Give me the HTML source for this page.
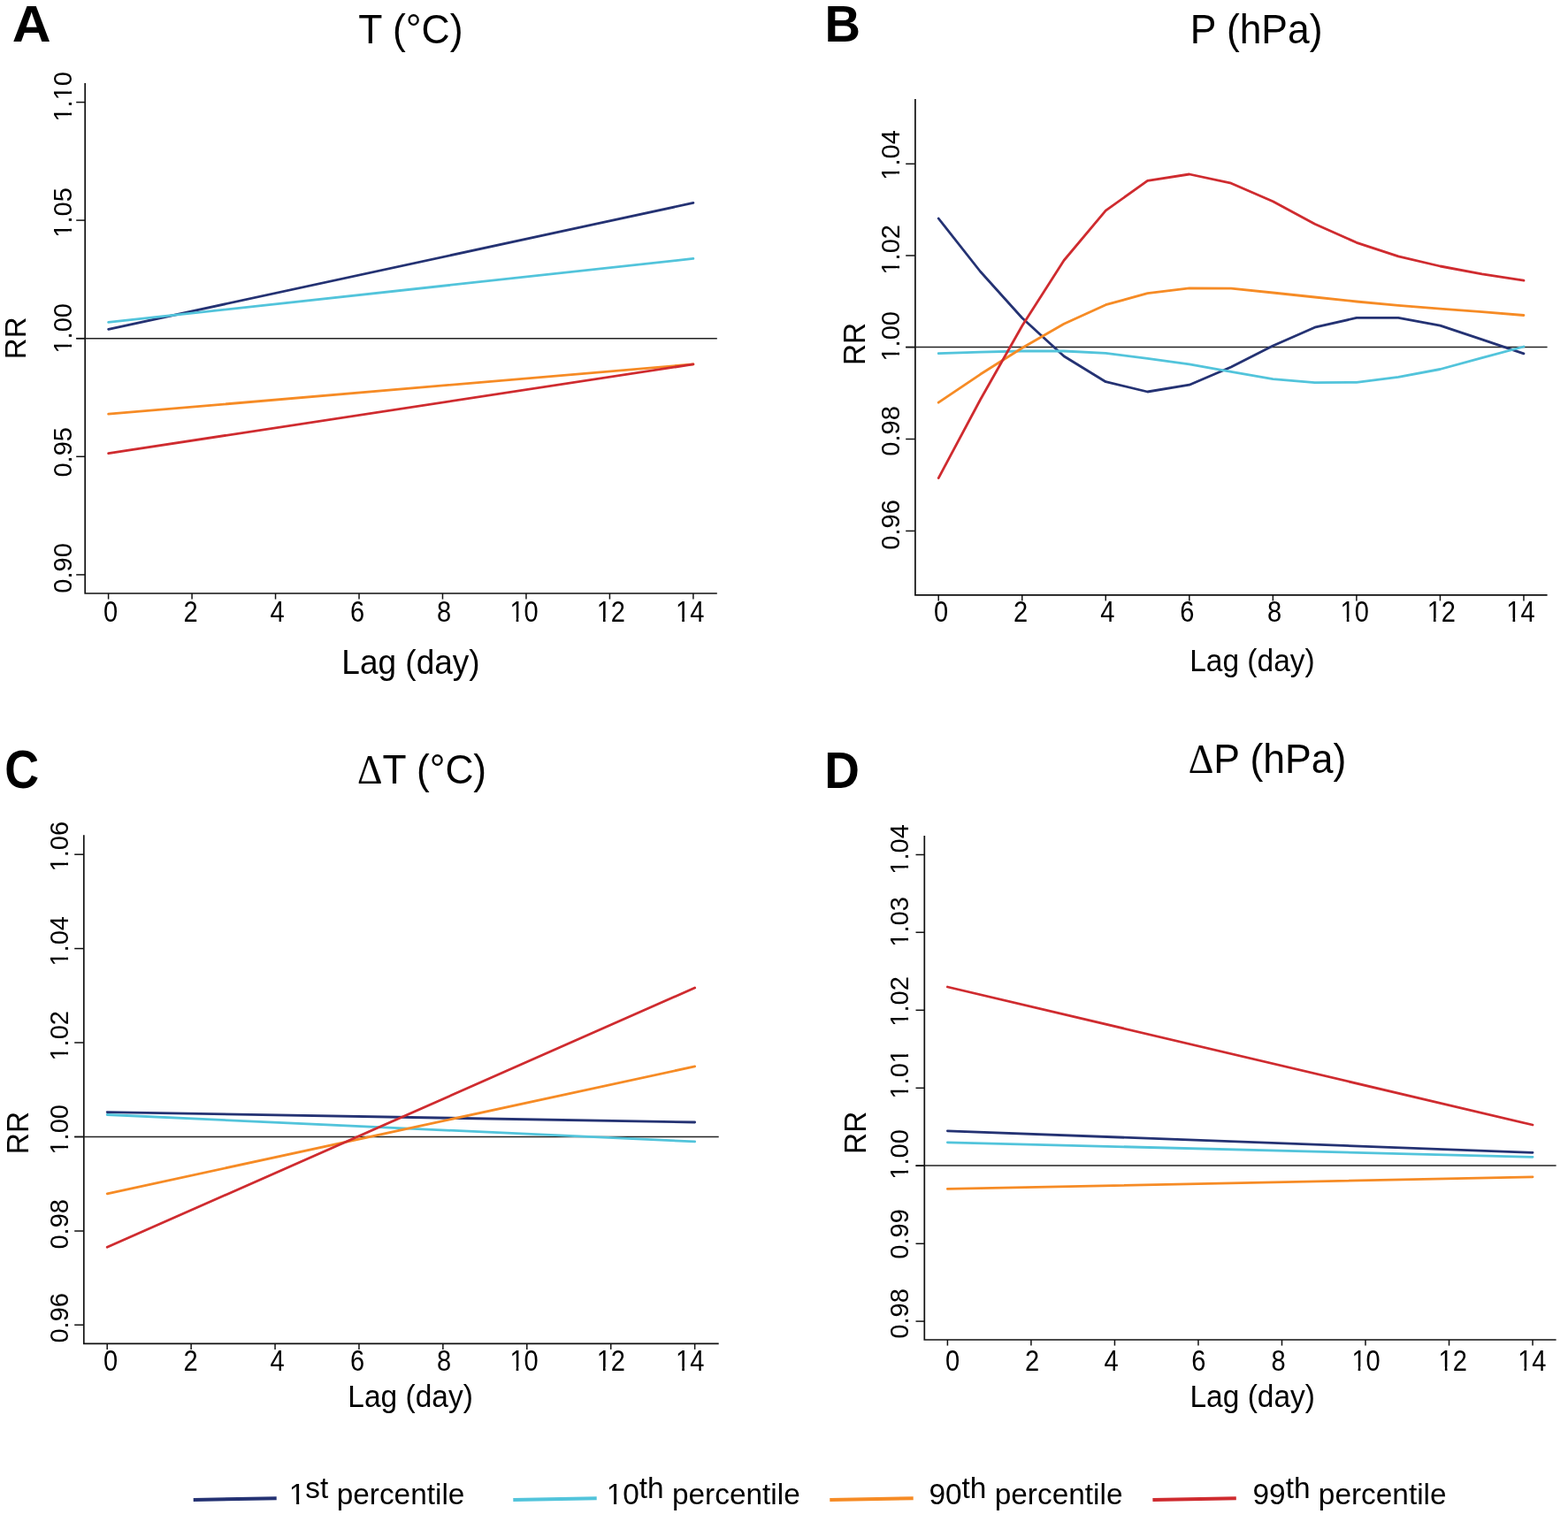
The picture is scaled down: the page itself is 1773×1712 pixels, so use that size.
<!DOCTYPE html>
<html><head><meta charset="utf-8"><title>RR by lag</title>
<style>
html,body{margin:0;padding:0;background:#fff;}
svg{display:block;}
text{font-family:"Liberation Sans", Arial, Helvetica, sans-serif;fill:#000;}
</style></head>
<body>
<svg xmlns="http://www.w3.org/2000/svg" width="1773" height="1712" viewBox="0 0 1773 1712">
<rect width="1773" height="1712" fill="#fff"/>
<path d="M96.2,94 V671 H810.8" fill="none" stroke="#111" stroke-width="1.7"/>
<line x1="86.2" y1="382.65" x2="810.8" y2="382.65" stroke="#222" stroke-width="1.5"/>
<line x1="86.2" y1="115.6" x2="96.2" y2="115.6" stroke="#111" stroke-width="1.5"/>
<g transform="translate(81,137.55) rotate(-90) scale(0.985,1.03)"><text font-size="29.5">1.10</text><rect x="0.72" y="-3.82" width="6.65" height="4.9" fill="#fff"/><rect x="10.07" y="-3.82" width="5.92" height="4.9" fill="#fff"/><rect x="25.32" y="-3.82" width="6.65" height="4.9" fill="#fff"/><rect x="34.67" y="-3.82" width="5.92" height="4.9" fill="#fff"/></g>
<line x1="86.2" y1="249.1" x2="96.2" y2="249.1" stroke="#111" stroke-width="1.5"/>
<g transform="translate(81,268.7) rotate(-90) scale(0.985,1.03)"><text font-size="29.5">1.05</text><rect x="0.72" y="-3.82" width="6.65" height="4.9" fill="#fff"/><rect x="10.07" y="-3.82" width="5.92" height="4.9" fill="#fff"/></g>
<line x1="86.2" y1="382.65" x2="96.2" y2="382.65" stroke="#111" stroke-width="1.5"/>
<g transform="translate(81,399.6) rotate(-90) scale(0.985,1.03)"><text font-size="29.5">1.00</text><rect x="0.72" y="-3.82" width="6.65" height="4.9" fill="#fff"/><rect x="10.07" y="-3.82" width="5.92" height="4.9" fill="#fff"/></g>
<line x1="86.2" y1="516.3" x2="96.2" y2="516.3" stroke="#111" stroke-width="1.5"/>
<g transform="translate(81,539.6) rotate(-90) scale(0.985,1.03)"><text font-size="29.5">0.95</text></g>
<line x1="86.2" y1="649.9" x2="96.2" y2="649.9" stroke="#111" stroke-width="1.5"/>
<g transform="translate(81,670.7) rotate(-90) scale(0.985,1.03)"><text font-size="29.5">0.90</text></g>
<line x1="122.6" y1="671" x2="122.6" y2="677.6" stroke="#111" stroke-width="1.5"/>
<g transform="translate(117.02,703.3) scale(0.985,1.1)"><text font-size="29.5">0</text></g>
<line x1="217.07" y1="671" x2="217.07" y2="677.6" stroke="#111" stroke-width="1.5"/>
<g transform="translate(207.52,703.3) scale(0.985,1.1)"><text font-size="29.5">2</text></g>
<line x1="311.54" y1="671" x2="311.54" y2="677.6" stroke="#111" stroke-width="1.5"/>
<g transform="translate(305.41,703.3) scale(0.985,1.1)"><text font-size="29.5">4</text></g>
<line x1="406.02" y1="671" x2="406.02" y2="677.6" stroke="#111" stroke-width="1.5"/>
<g transform="translate(395.92,703.3) scale(0.985,1.1)"><text font-size="29.5">6</text></g>
<line x1="500.49" y1="671" x2="500.49" y2="677.6" stroke="#111" stroke-width="1.5"/>
<g transform="translate(494.02,703.3) scale(0.985,1.1)"><text font-size="29.5">8</text></g>
<line x1="594.96" y1="671" x2="594.96" y2="677.6" stroke="#111" stroke-width="1.5"/>
<g transform="translate(576.41,703.3) scale(0.985,1.1)"><text font-size="29.5">10</text><rect x="0.72" y="-3.82" width="6.65" height="4.9" fill="#fff"/><rect x="10.07" y="-3.82" width="5.92" height="4.9" fill="#fff"/></g>
<line x1="689.43" y1="671" x2="689.43" y2="677.6" stroke="#111" stroke-width="1.5"/>
<g transform="translate(674.67,703.3) scale(0.985,1.1)"><text font-size="29.5">12</text><rect x="0.72" y="-3.82" width="6.65" height="4.9" fill="#fff"/><rect x="10.07" y="-3.82" width="5.92" height="4.9" fill="#fff"/></g>
<line x1="783.9" y1="671" x2="783.9" y2="677.6" stroke="#111" stroke-width="1.5"/>
<g transform="translate(763.97,703.3) scale(0.985,1.1)"><text font-size="29.5">14</text><rect x="0.72" y="-3.82" width="6.65" height="4.9" fill="#fff"/><rect x="10.07" y="-3.82" width="5.92" height="4.9" fill="#fff"/></g>
<polyline points="122.6,372.3 783.9,229.4" fill="none" stroke="#243273" stroke-width="2.8" stroke-linejoin="round" stroke-linecap="round"/>
<polyline points="122.6,364.4 783.9,292.4" fill="none" stroke="#52c4db" stroke-width="2.8" stroke-linejoin="round" stroke-linecap="round"/>
<polyline points="122.6,468.2 783.9,411.9" fill="none" stroke="#f68b25" stroke-width="2.8" stroke-linejoin="round" stroke-linecap="round"/>
<polyline points="122.6,512.6 783.9,411.9" fill="none" stroke="#cf2b2f" stroke-width="2.8" stroke-linejoin="round" stroke-linecap="round"/>
<text transform="translate(13.8,46.8) scale(1.094,1.047)" font-size="55.5" font-weight="bold">A</text>
<text transform="translate(464.4,48.9) scale(1,1.03)" font-size="44.5" text-anchor="middle">T (°C)</text>
<text transform="translate(464.5,761.8) scale(1,1.03)" font-size="37" text-anchor="middle">Lag (day)</text>
<text transform="translate(29,382.3) rotate(-90) scale(1,1.03)" font-size="33" text-anchor="middle">RR</text>
<path d="M1034.9,112 V672.8 H1749.6" fill="none" stroke="#111" stroke-width="1.7"/>
<line x1="1024.2" y1="392.5" x2="1749.6" y2="392.5" stroke="#222" stroke-width="1.5"/>
<line x1="1024.2" y1="185.3" x2="1034.9" y2="185.3" stroke="#111" stroke-width="1.5"/>
<g transform="translate(1016.9,203.7) rotate(-90) scale(0.985,1.03)"><text font-size="29.5">1.04</text><rect x="0.72" y="-3.82" width="6.65" height="4.9" fill="#fff"/><rect x="10.07" y="-3.82" width="5.92" height="4.9" fill="#fff"/></g>
<line x1="1024.2" y1="289" x2="1034.9" y2="289" stroke="#111" stroke-width="1.5"/>
<g transform="translate(1016.9,310.6) rotate(-90) scale(0.985,1.03)"><text font-size="29.5">1.02</text><rect x="0.72" y="-3.82" width="6.65" height="4.9" fill="#fff"/><rect x="10.07" y="-3.82" width="5.92" height="4.9" fill="#fff"/></g>
<line x1="1024.2" y1="392.6" x2="1034.9" y2="392.6" stroke="#111" stroke-width="1.5"/>
<g transform="translate(1016.9,408.6) rotate(-90) scale(0.985,1.03)"><text font-size="29.5">1.00</text><rect x="0.72" y="-3.82" width="6.65" height="4.9" fill="#fff"/><rect x="10.07" y="-3.82" width="5.92" height="4.9" fill="#fff"/></g>
<line x1="1024.2" y1="496.5" x2="1034.9" y2="496.5" stroke="#111" stroke-width="1.5"/>
<g transform="translate(1016.9,515.7) rotate(-90) scale(0.985,1.03)"><text font-size="29.5">0.98</text></g>
<line x1="1024.2" y1="600.4" x2="1034.9" y2="600.4" stroke="#111" stroke-width="1.5"/>
<g transform="translate(1016.9,621.7) rotate(-90) scale(0.985,1.03)"><text font-size="29.5">0.96</text></g>
<line x1="1061.2" y1="672.8" x2="1061.2" y2="679.4" stroke="#111" stroke-width="1.5"/>
<g transform="translate(1055.92,703.1) scale(0.985,1.1)"><text font-size="29.5">0</text></g>
<line x1="1155.74" y1="672.8" x2="1155.74" y2="679.4" stroke="#111" stroke-width="1.5"/>
<g transform="translate(1145.92,703.1) scale(0.985,1.1)"><text font-size="29.5">2</text></g>
<line x1="1250.28" y1="672.8" x2="1250.28" y2="679.4" stroke="#111" stroke-width="1.5"/>
<g transform="translate(1244.31,703.1) scale(0.985,1.1)"><text font-size="29.5">4</text></g>
<line x1="1344.82" y1="672.8" x2="1344.82" y2="679.4" stroke="#111" stroke-width="1.5"/>
<g transform="translate(1334.32,703.1) scale(0.985,1.1)"><text font-size="29.5">6</text></g>
<line x1="1439.36" y1="672.8" x2="1439.36" y2="679.4" stroke="#111" stroke-width="1.5"/>
<g transform="translate(1432.92,703.1) scale(0.985,1.1)"><text font-size="29.5">8</text></g>
<line x1="1533.9" y1="672.8" x2="1533.9" y2="679.4" stroke="#111" stroke-width="1.5"/>
<g transform="translate(1515.51,703.1) scale(0.985,1.1)"><text font-size="29.5">10</text><rect x="0.72" y="-3.82" width="6.65" height="4.9" fill="#fff"/><rect x="10.07" y="-3.82" width="5.92" height="4.9" fill="#fff"/></g>
<line x1="1628.44" y1="672.8" x2="1628.44" y2="679.4" stroke="#111" stroke-width="1.5"/>
<g transform="translate(1613.67,703.1) scale(0.985,1.1)"><text font-size="29.5">12</text><rect x="0.72" y="-3.82" width="6.65" height="4.9" fill="#fff"/><rect x="10.07" y="-3.82" width="5.92" height="4.9" fill="#fff"/></g>
<line x1="1722.98" y1="672.8" x2="1722.98" y2="679.4" stroke="#111" stroke-width="1.5"/>
<g transform="translate(1703.27,703.1) scale(0.985,1.1)"><text font-size="29.5">14</text><rect x="0.72" y="-3.82" width="6.65" height="4.9" fill="#fff"/><rect x="10.07" y="-3.82" width="5.92" height="4.9" fill="#fff"/></g>
<polyline points="1061.2,247 1108.47,307 1155.74,359.5 1203.01,402.8 1250.28,431.7 1297.55,443 1344.82,435.2 1392.09,415 1439.36,391 1486.63,370.2 1533.9,359.4 1581.17,359.4 1628.44,368.2 1675.71,383.8 1722.98,399.8" fill="none" stroke="#243273" stroke-width="2.8" stroke-linejoin="round" stroke-linecap="round"/>
<polyline points="1061.2,399.7 1108.47,398.2 1155.74,397 1203.01,397 1250.28,399.3 1297.55,405.3 1344.82,411.9 1392.09,420.3 1439.36,428.6 1486.63,432.6 1533.9,432.4 1581.17,426.4 1628.44,417.5 1675.71,404.6 1722.98,392" fill="none" stroke="#52c4db" stroke-width="2.8" stroke-linejoin="round" stroke-linecap="round"/>
<polyline points="1061.2,455.2 1108.47,423.3 1155.74,393.5 1203.01,366.2 1250.28,344.7 1297.55,331.6 1344.82,325.8 1392.09,326.2 1439.36,331 1486.63,336 1533.9,341 1581.17,345.4 1628.44,349.1 1675.71,352.7 1722.98,356.5" fill="none" stroke="#f68b25" stroke-width="2.8" stroke-linejoin="round" stroke-linecap="round"/>
<polyline points="1061.2,540.6 1108.47,452 1155.74,368.5 1203.01,294.5 1250.28,238.1 1297.55,204.4 1344.82,197 1392.09,207.2 1439.36,227.7 1486.63,253.3 1533.9,274.3 1581.17,289.9 1628.44,301 1675.71,309.9 1722.98,317.2" fill="none" stroke="#cf2b2f" stroke-width="2.8" stroke-linejoin="round" stroke-linecap="round"/>
<text transform="translate(932.4,47.3) scale(1.01,1.032)" font-size="55.5" font-weight="bold">B</text>
<text transform="translate(1420.6,49) scale(1,1.03)" font-size="44.4" text-anchor="middle">P (hPa)</text>
<text transform="translate(1415.9,759.1) scale(1,1.03)" font-size="33.5" text-anchor="middle">Lag (day)</text>
<text transform="translate(978.1,388.9) rotate(-90) scale(1,1.03)" font-size="33.5" text-anchor="middle">RR</text>
<path d="M94.8,944.3 V1519.3 H812.7" fill="none" stroke="#111" stroke-width="1.7"/>
<line x1="84.2" y1="1285.4" x2="812.7" y2="1285.4" stroke="#222" stroke-width="1.5"/>
<line x1="84.2" y1="966.2" x2="94.8" y2="966.2" stroke="#111" stroke-width="1.5"/>
<g transform="translate(76.9,985.5) rotate(-90) scale(0.985,1.03)"><text font-size="29.5">1.06</text><rect x="0.72" y="-3.82" width="6.65" height="4.9" fill="#fff"/><rect x="10.07" y="-3.82" width="5.92" height="4.9" fill="#fff"/></g>
<line x1="84.2" y1="1072.6" x2="94.8" y2="1072.6" stroke="#111" stroke-width="1.5"/>
<g transform="translate(76.9,1092.55) rotate(-90) scale(0.985,1.03)"><text font-size="29.5">1.04</text><rect x="0.72" y="-3.82" width="6.65" height="4.9" fill="#fff"/><rect x="10.07" y="-3.82" width="5.92" height="4.9" fill="#fff"/></g>
<line x1="84.2" y1="1179" x2="94.8" y2="1179" stroke="#111" stroke-width="1.5"/>
<g transform="translate(76.9,1199.6) rotate(-90) scale(0.985,1.03)"><text font-size="29.5">1.02</text><rect x="0.72" y="-3.82" width="6.65" height="4.9" fill="#fff"/><rect x="10.07" y="-3.82" width="5.92" height="4.9" fill="#fff"/></g>
<line x1="84.2" y1="1285.5" x2="94.8" y2="1285.5" stroke="#111" stroke-width="1.5"/>
<g transform="translate(76.9,1305.55) rotate(-90) scale(0.985,1.03)"><text font-size="29.5">1.00</text><rect x="0.72" y="-3.82" width="6.65" height="4.9" fill="#fff"/><rect x="10.07" y="-3.82" width="5.92" height="4.9" fill="#fff"/></g>
<line x1="84.2" y1="1392" x2="94.8" y2="1392" stroke="#111" stroke-width="1.5"/>
<g transform="translate(76.9,1412.6) rotate(-90) scale(0.985,1.03)"><text font-size="29.5">0.98</text></g>
<line x1="84.2" y1="1498.2" x2="94.8" y2="1498.2" stroke="#111" stroke-width="1.5"/>
<g transform="translate(76.9,1518.6) rotate(-90) scale(0.985,1.03)"><text font-size="29.5">0.96</text></g>
<line x1="121.2" y1="1519.3" x2="121.2" y2="1525.9" stroke="#111" stroke-width="1.5"/>
<g transform="translate(117.02,1550) scale(0.985,1.1)"><text font-size="29.5">0</text></g>
<line x1="216.12" y1="1519.3" x2="216.12" y2="1525.9" stroke="#111" stroke-width="1.5"/>
<g transform="translate(207.52,1550) scale(0.985,1.1)"><text font-size="29.5">2</text></g>
<line x1="311.04" y1="1519.3" x2="311.04" y2="1525.9" stroke="#111" stroke-width="1.5"/>
<g transform="translate(305.41,1550) scale(0.985,1.1)"><text font-size="29.5">4</text></g>
<line x1="405.96" y1="1519.3" x2="405.96" y2="1525.9" stroke="#111" stroke-width="1.5"/>
<g transform="translate(395.92,1550) scale(0.985,1.1)"><text font-size="29.5">6</text></g>
<line x1="500.88" y1="1519.3" x2="500.88" y2="1525.9" stroke="#111" stroke-width="1.5"/>
<g transform="translate(494.02,1550) scale(0.985,1.1)"><text font-size="29.5">8</text></g>
<line x1="595.8" y1="1519.3" x2="595.8" y2="1525.9" stroke="#111" stroke-width="1.5"/>
<g transform="translate(576.41,1550) scale(0.985,1.1)"><text font-size="29.5">10</text><rect x="0.72" y="-3.82" width="6.65" height="4.9" fill="#fff"/><rect x="10.07" y="-3.82" width="5.92" height="4.9" fill="#fff"/></g>
<line x1="690.72" y1="1519.3" x2="690.72" y2="1525.9" stroke="#111" stroke-width="1.5"/>
<g transform="translate(674.67,1550) scale(0.985,1.1)"><text font-size="29.5">12</text><rect x="0.72" y="-3.82" width="6.65" height="4.9" fill="#fff"/><rect x="10.07" y="-3.82" width="5.92" height="4.9" fill="#fff"/></g>
<line x1="785.64" y1="1519.3" x2="785.64" y2="1525.9" stroke="#111" stroke-width="1.5"/>
<g transform="translate(763.97,1550) scale(0.985,1.1)"><text font-size="29.5">14</text><rect x="0.72" y="-3.82" width="6.65" height="4.9" fill="#fff"/><rect x="10.07" y="-3.82" width="5.92" height="4.9" fill="#fff"/></g>
<polyline points="121.2,1257.6 785.64,1269" fill="none" stroke="#243273" stroke-width="2.8" stroke-linejoin="round" stroke-linecap="round"/>
<polyline points="121.2,1260.5 785.64,1290.9" fill="none" stroke="#52c4db" stroke-width="2.8" stroke-linejoin="round" stroke-linecap="round"/>
<polyline points="121.2,1349.8 785.64,1205.9" fill="none" stroke="#f68b25" stroke-width="2.8" stroke-linejoin="round" stroke-linecap="round"/>
<polyline points="121.2,1410.3 785.64,1117" fill="none" stroke="#cf2b2f" stroke-width="2.8" stroke-linejoin="round" stroke-linecap="round"/>
<text transform="translate(5.3,891.2) scale(0.97,1.097)" font-size="55.5" font-weight="bold">C</text>
<text transform="translate(477,885.8) scale(1,1.03)" font-size="44.3" text-anchor="middle"><tspan font-family="Liberation Serif">Δ</tspan>T (°C)</text>
<text transform="translate(464.1,1590.8) scale(1,1.03)" font-size="33.5" text-anchor="middle">Lag (day)</text>
<text transform="translate(31.7,1281) rotate(-90) scale(1,1.03)" font-size="33.5" text-anchor="middle">RR</text>
<path d="M1045.3,945 V1515 H1759.6" fill="none" stroke="#111" stroke-width="1.7"/>
<line x1="1035.5" y1="1318.1" x2="1759.6" y2="1318.1" stroke="#222" stroke-width="1.5"/>
<line x1="1035.5" y1="966.5" x2="1045.3" y2="966.5" stroke="#111" stroke-width="1.5"/>
<g transform="translate(1027,988.7) rotate(-90) scale(0.985,1.03)"><text font-size="29.5">1.04</text><rect x="0.72" y="-3.82" width="6.65" height="4.9" fill="#fff"/><rect x="10.07" y="-3.82" width="5.92" height="4.9" fill="#fff"/></g>
<line x1="1035.5" y1="1054.3" x2="1045.3" y2="1054.3" stroke="#111" stroke-width="1.5"/>
<g transform="translate(1027,1070.7) rotate(-90) scale(0.985,1.03)"><text font-size="29.5">1.03</text><rect x="0.72" y="-3.82" width="6.65" height="4.9" fill="#fff"/><rect x="10.07" y="-3.82" width="5.92" height="4.9" fill="#fff"/></g>
<line x1="1035.5" y1="1142.3" x2="1045.3" y2="1142.3" stroke="#111" stroke-width="1.5"/>
<g transform="translate(1027,1160.65) rotate(-90) scale(0.985,1.03)"><text font-size="29.5">1.02</text><rect x="0.72" y="-3.82" width="6.65" height="4.9" fill="#fff"/><rect x="10.07" y="-3.82" width="5.92" height="4.9" fill="#fff"/></g>
<line x1="1035.5" y1="1230.3" x2="1045.3" y2="1230.3" stroke="#111" stroke-width="1.5"/>
<g transform="translate(1027,1242.6) rotate(-90) scale(0.985,1.03)"><text font-size="29.5">1.01</text><rect x="0.72" y="-3.82" width="6.65" height="4.9" fill="#fff"/><rect x="10.07" y="-3.82" width="5.92" height="4.9" fill="#fff"/><rect x="41.73" y="-3.82" width="6.65" height="4.9" fill="#fff"/><rect x="51.08" y="-3.82" width="5.92" height="4.9" fill="#fff"/></g>
<line x1="1035.5" y1="1318.3" x2="1045.3" y2="1318.3" stroke="#111" stroke-width="1.5"/>
<g transform="translate(1027,1333.65) rotate(-90) scale(0.985,1.03)"><text font-size="29.5">1.00</text><rect x="0.72" y="-3.82" width="6.65" height="4.9" fill="#fff"/><rect x="10.07" y="-3.82" width="5.92" height="4.9" fill="#fff"/></g>
<line x1="1035.5" y1="1406.3" x2="1045.3" y2="1406.3" stroke="#111" stroke-width="1.5"/>
<g transform="translate(1027,1423.7) rotate(-90) scale(0.985,1.03)"><text font-size="29.5">0.99</text></g>
<line x1="1035.5" y1="1494.1" x2="1045.3" y2="1494.1" stroke="#111" stroke-width="1.5"/>
<g transform="translate(1027,1513.7) rotate(-90) scale(0.985,1.03)"><text font-size="29.5">0.98</text></g>
<line x1="1071.4" y1="1515" x2="1071.4" y2="1521.6" stroke="#111" stroke-width="1.5"/>
<g transform="translate(1068.92,1549.7) scale(0.985,1.1)"><text font-size="29.5">0</text></g>
<line x1="1165.92" y1="1515" x2="1165.92" y2="1521.6" stroke="#111" stroke-width="1.5"/>
<g transform="translate(1158.92,1549.7) scale(0.985,1.1)"><text font-size="29.5">2</text></g>
<line x1="1260.44" y1="1515" x2="1260.44" y2="1521.6" stroke="#111" stroke-width="1.5"/>
<g transform="translate(1248.51,1549.7) scale(0.985,1.1)"><text font-size="29.5">4</text></g>
<line x1="1354.96" y1="1515" x2="1354.96" y2="1521.6" stroke="#111" stroke-width="1.5"/>
<g transform="translate(1347.22,1549.7) scale(0.985,1.1)"><text font-size="29.5">6</text></g>
<line x1="1449.48" y1="1515" x2="1449.48" y2="1521.6" stroke="#111" stroke-width="1.5"/>
<g transform="translate(1437.62,1549.7) scale(0.985,1.1)"><text font-size="29.5">8</text></g>
<line x1="1544" y1="1515" x2="1544" y2="1521.6" stroke="#111" stroke-width="1.5"/>
<g transform="translate(1528.41,1549.7) scale(0.985,1.1)"><text font-size="29.5">10</text><rect x="0.72" y="-3.82" width="6.65" height="4.9" fill="#fff"/><rect x="10.07" y="-3.82" width="5.92" height="4.9" fill="#fff"/></g>
<line x1="1638.52" y1="1515" x2="1638.52" y2="1521.6" stroke="#111" stroke-width="1.5"/>
<g transform="translate(1626.57,1549.7) scale(0.985,1.1)"><text font-size="29.5">12</text><rect x="0.72" y="-3.82" width="6.65" height="4.9" fill="#fff"/><rect x="10.07" y="-3.82" width="5.92" height="4.9" fill="#fff"/></g>
<line x1="1733.04" y1="1515" x2="1733.04" y2="1521.6" stroke="#111" stroke-width="1.5"/>
<g transform="translate(1716.17,1549.7) scale(0.985,1.1)"><text font-size="29.5">14</text><rect x="0.72" y="-3.82" width="6.65" height="4.9" fill="#fff"/><rect x="10.07" y="-3.82" width="5.92" height="4.9" fill="#fff"/></g>
<polyline points="1071.4,1278.8 1733.04,1303.3" fill="none" stroke="#243273" stroke-width="2.8" stroke-linejoin="round" stroke-linecap="round"/>
<polyline points="1071.4,1291.8 1733.04,1308.3" fill="none" stroke="#52c4db" stroke-width="2.8" stroke-linejoin="round" stroke-linecap="round"/>
<polyline points="1071.4,1344.4 1733.04,1330.8" fill="none" stroke="#f68b25" stroke-width="2.8" stroke-linejoin="round" stroke-linecap="round"/>
<polyline points="1071.4,1116 1733.04,1272" fill="none" stroke="#cf2b2f" stroke-width="2.8" stroke-linejoin="round" stroke-linecap="round"/>
<text transform="translate(932.3,890.8) scale(0.99,1.04)" font-size="55.5" font-weight="bold">D</text>
<text transform="translate(1433,873.8) scale(1,1.03)" font-size="44.5" text-anchor="middle"><tspan font-family="Liberation Serif">Δ</tspan>P (hPa)</text>
<text transform="translate(1416.2,1590.8) scale(1,1.03)" font-size="33.5" text-anchor="middle">Lag (day)</text>
<text transform="translate(978.9,1280.8) rotate(-90) scale(1,1.03)" font-size="33.5" text-anchor="middle">RR</text>
<line x1="218.7" y1="1696" x2="312.7" y2="1694.3" stroke="#243273" stroke-width="4"/>
<g transform="translate(326.79,1701)"><text font-size="33.4">1<tspan dy="-6.6">st</tspan><tspan dy="6.6"> percentile</tspan></text><rect x="0.82" y="-4.32" width="7.53" height="5.54" fill="#fff"/><rect x="11.4" y="-4.32" width="6.7" height="5.54" fill="#fff"/></g>
<line x1="580.3" y1="1696" x2="674.7" y2="1694.3" stroke="#52c4db" stroke-width="4"/>
<g transform="translate(685.69,1701)"><text font-size="33.4">10<tspan dy="-6.6">th</tspan><tspan dy="6.6"> percentile</tspan></text><rect x="0.82" y="-4.32" width="7.53" height="5.54" fill="#fff"/><rect x="11.4" y="-4.32" width="6.7" height="5.54" fill="#fff"/></g>
<line x1="938.3" y1="1696" x2="1032.7" y2="1694.3" stroke="#f68b25" stroke-width="4"/>
<g transform="translate(1050.43,1701)"><text font-size="33.4">90<tspan dy="-6.6">th</tspan><tspan dy="6.6"> percentile</tspan></text></g>
<line x1="1303.4" y1="1696" x2="1397.8" y2="1694.3" stroke="#cf2b2f" stroke-width="4"/>
<g transform="translate(1416.53,1701)"><text font-size="33.4">99<tspan dy="-6.6">th</tspan><tspan dy="6.6"> percentile</tspan></text></g>
</svg>
</body></html>
